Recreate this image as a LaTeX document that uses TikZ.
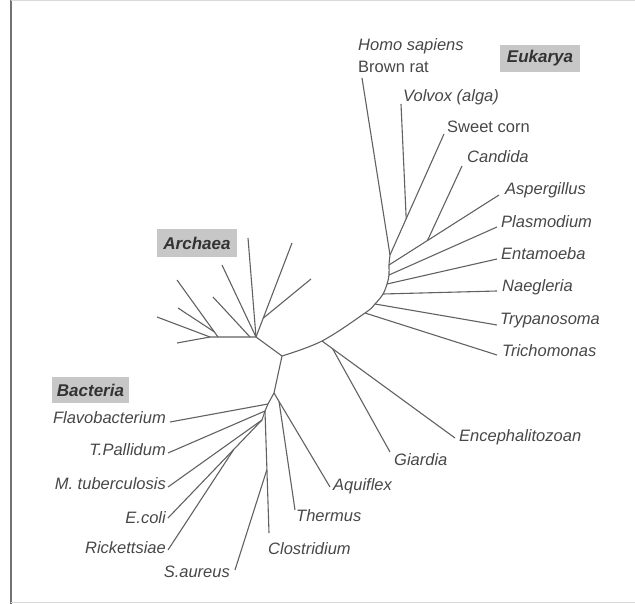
\documentclass[tikz,border=0pt]{standalone}
\usepackage{fontspec}
\setmainfont{Liberation Sans}
\usepackage{tikz}
\usetikzlibrary{calc}

\begin{document}
\begin{tikzpicture}[x=1pt,y=-1pt,line join=round,
    branch/.style={draw=black!62,line width=1.1pt},
    taxon/.style={inner sep=0pt,text=black!72,font=\fontsize{16.5}{18}\selectfont\itshape},
    plain/.style={taxon,font=\fontsize{16.5}{18}\selectfont},
    groupbox/.style={fill=black!22,inner sep=0pt,text=black!80,font=\fontsize{17}{18}\selectfont\bfseries\itshape}]
        \useasboundingbox (0,0) rectangle (635,604);
        \draw[black!55,line width=1.2pt] (11,0) -- (11,604);
        \draw[black!15,line width=1pt] (11,1) -- (635,1);
        \draw[black!15,line width=1pt] (11,602) -- (635,602);

        % backbone
        \coordinate (root) at (282,356);
        \coordinate (e0) at (390,255);
        \coordinate (e1) at (389,265);
        \coordinate (e2) at (389,275);
        \coordinate (e3) at (387,284);
        \coordinate (e4) at (383,294);
        \coordinate (e5) at (375,304);
        \coordinate (e6) at (365,313);
        \coordinate (e7) at (322,341);
        \draw[branch] plot[smooth,tension=0.6] coordinates {(e0) (e1) (e2) (e3) (e4) (e5) (e6) (e7) (root)};

        % Eukarya
        \node[groupbox,minimum width=80pt,minimum height=27pt] (euk) at (540,58.5) {Eukarya};
        \node[taxon,anchor=west] (homo) at (358,46) {Homo sapiens};
        \node[plain,anchor=west] (rat) at (358,67) {Brown rat};
        \node[taxon,anchor=west] (volvox) at (403,97) {Volvox (alga)};
        \node[plain,anchor=west] (corn) at (447,127) {Sweet corn};
        \node[taxon,anchor=west] (candida) at (467,157) {Candida};
        \node[taxon,anchor=west] (asper) at (505,190) {Aspergillus};
        \node[taxon,anchor=west] (plasmo) at (501,222) {Plasmodium};
        \node[taxon,anchor=west] (entam) at (501,254) {Entamoeba};
        \node[taxon,anchor=west] (naeg) at (502,287) {Naegleria};
        \node[taxon,anchor=west] (trypa) at (500,321) {Trypanosoma};
        \node[taxon,anchor=west] (tricho) at (502,351) {Trichomonas};
        \node[taxon,anchor=west] (encep) at (459,437) {Encephalitozoan};
        \node[taxon,anchor=west] (giard) at (394,460) {Giardia};

        \coordinate (homoT) at (362,78);
        \coordinate (cornT) at (444,134);
        \coordinate (volvoxT) at (401,104);
        \coordinate (candidaT) at (462,166);
        \coordinate (asperT) at (499,195);
        \coordinate (plasmoT) at (497,227);
        \coordinate (entamT) at (497,259);
        \coordinate (naegT) at (497,291);
        \coordinate (trypaT) at (497,325);
        \coordinate (trichoT) at (497,355);
        \coordinate (encepT) at (455,438);
        \coordinate (giardT) at (390,452);
        \coordinate (vj) at ($(e0)!0.3!(cornT)$);
        \coordinate (cj) at ($(e1)!0.35!(asperT)$);
        \coordinate (gj) at ($(e7)!0.08!(encepT)$);

        \draw[branch] (e0) -- (homoT);
        \draw[branch] (e0) -- (cornT);
        \draw[branch] (vj) -- (volvoxT);
        \draw[branch] (e1) -- (asperT);
        \draw[branch] (cj) -- (candidaT);
        \draw[branch] (e2) -- (plasmoT);
        \draw[branch] (e3) -- (entamT);
        \draw[branch] (e4) -- (naegT);
        \draw[branch] (e5) -- (trypaT);
        \draw[branch] (e6) -- (trichoT);
        \draw[branch] (e7) -- (encepT);
        \draw[branch] (gj) -- (giardT);

        % Archaea
        \node[groupbox,minimum width=80pt,minimum height=28pt] (arch) at (197,243) {Archaea};
        \coordinate (ah) at (256,337);
        \coordinate (b1) at (250,337);
        \coordinate (b2) at (218,337);
        \coordinate (b3) at (210,337);
        \coordinate (a1T) at (248,238);
        \coordinate (a2T) at (292,243);
        \coordinate (a3T) at (311,279);
        \coordinate (a4T) at (222,265);
        \coordinate (a5T) at (213,297);
        \coordinate (a6T) at (177,280);
        \coordinate (a7T) at (178,308);
        \coordinate (a8T) at (157,317);
        \coordinate (a9T) at (177,343);
        \coordinate (aj) at ($(ah)!0.2!(a2T)$);
        \coordinate (bj) at ($(b2)!0.09!(a6T)$);
        \draw[branch] (root) -- (ah) -- (b1) -- (b2) -- (b3);
        \draw[branch] (ah) -- (a1T);
        \draw[branch] (ah) -- (a2T);
        \draw[branch] (aj) -- (a3T);
        \draw[branch] (ah) -- (a4T);
        \draw[branch] (b1) -- (a5T);
        \draw[branch] (b2) -- (a6T);
        \draw[branch] (bj) -- (a7T);
        \draw[branch] (b3) -- (a8T);
        \draw[branch] (b3) -- (a9T);

        % Bacteria
        \node[groupbox,minimum width=77pt,minimum height=26pt] (bact) at (90.5,390) {Bacteria};
        \node[taxon,anchor=east] (flavo) at (166,418) {Flavobacterium};
        \node[taxon,anchor=east] (tpall) at (166,450) {T.Pallidum};
        \node[taxon,anchor=east] (mtub) at (166,484) {M. tuberculosis};
        \node[taxon,anchor=east] (ecoli) at (166,518) {E.coli};
        \node[taxon,anchor=east] (rick) at (166,548) {Rickettsiae};
        \node[taxon,anchor=east] (saur) at (230,572) {S.aureus};
        \node[taxon,anchor=west] (clost) at (268,549) {Clostridium};
        \node[taxon,anchor=west] (therm) at (296,516) {Thermus};
        \node[taxon,anchor=west] (aquif) at (333,486) {Aquiflex};

        \coordinate (s1) at (274,393);
        \coordinate (s2) at (268,404);
        \coordinate (s3) at (265,411);
        \coordinate (s4) at (262,420);
        \coordinate (aquifT) at (330,487);
        \coordinate (thermT) at (295,510);
        \coordinate (flavoT) at (170,422);
        \coordinate (tpallT) at (168,453);
        \coordinate (mtubT) at (168,487);
        \coordinate (ecoliT) at (168,518);
        \coordinate (rickT) at (168,550);
        \coordinate (clostT) at (269,533);
        \coordinate (saurT) at (235,570);
        \coordinate (tj) at ($(s1)!0.09!(aquifT)$);
        \coordinate (sj) at ($(s3)!0.48!(clostT)$);
        \coordinate (rj) at ($(s4)!0.3!(ecoliT)$);

        \draw[branch] (root) -- (s1) -- (s2) -- (s3) -- (s4);
        \draw[branch] (s1) -- (aquifT);
        \draw[branch] (tj) -- (thermT);
        \draw[branch] (s2) -- (flavoT);
        \draw[branch] (s3) -- (tpallT);
        \draw[branch] (s3) -- (clostT);
        \draw[branch] (sj) -- (saurT);
        \draw[branch] (s4) -- (mtubT);
        \draw[branch] (s4) -- (ecoliT);
        \draw[branch] (rj) -- (rickT);
    \end{tikzpicture}
\end{document}
